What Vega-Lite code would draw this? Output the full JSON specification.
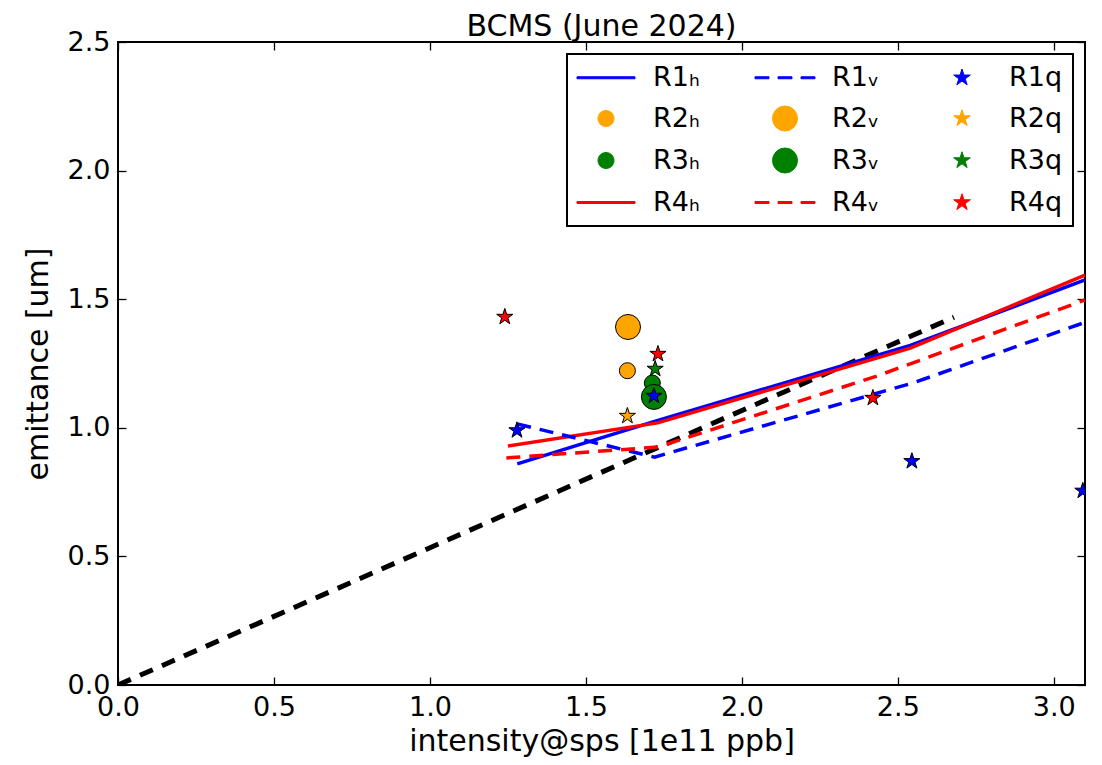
{
  "$schema": "https://vega.github.io/schema/vega-lite/v6.json",
  "width": 967,
  "height": 643,
  "autosize": "none",
  "padding": {"left": 118, "top": 42, "right": 17, "bottom": 80},
  "background": "white",
  "title": {"text": "BCMS (June 2024)", "fontSize": 30, "font": "DejaVu Sans", "fontWeight": "normal", "color": "black", "offset": -14, "anchor": "middle"},
  "config": {
    "font": "DejaVu Sans",
    "view": {"stroke": "black", "strokeWidth": 2},
    "axis": {
      "grid": false, "domain": false, "tickColor": "black", "tickSize": 8, "offset": -8, "tickWidth": 1.3, "zindex": 1,
      "labelFontSize": 27, "labelColor": "black", "labelFont": "DejaVu Sans", "labelFlush": false,
      "titleFontSize": 30, "titleFontWeight": "normal", "titleColor": "black", "titleFont": "DejaVu Sans"
    },
    "legend": {
      "orient": "top-right", "offset": 12, "columns": 3, "strokeColor": "black", "strokeWidth": 2,
      "fillColor": "white", "padding": 10, "labelFontSize": 27, "labelFont": "DejaVu Sans", "labelColor": "black",
      "rowPadding": 13, "columnPadding": 53, "symbolOffset": 15.5, "labelOffset": 33.5, "labelLimit": 300,
      "symbolSize": 625, "symbolStrokeWidth": 1
    }
  },
  "datasets": {
    "refline": [
      {"x": 0, "y": 0},
      {"x": 2.68, "y": 1.43}
    ],
    "curves": [
      {"series": "R1h", "x": 1.28, "y": 0.86},
      {"series": "R1h", "x": 1.72, "y": 1.025},
      {"series": "R1h", "x": 2.54, "y": 1.32},
      {"series": "R1h", "x": 3.1, "y": 1.575},
      {"series": "R4h", "x": 1.25, "y": 0.929},
      {"series": "R4h", "x": 1.73, "y": 1.019},
      {"series": "R4h", "x": 2.54, "y": 1.31},
      {"series": "R4h", "x": 3.1, "y": 1.594},
      {"series": "R1v", "x": 1.28, "y": 1.015},
      {"series": "R1v", "x": 1.72, "y": 0.886},
      {"series": "R1v", "x": 2.55, "y": 1.175},
      {"series": "R1v", "x": 3.1, "y": 1.41},
      {"series": "R4v", "x": 1.245, "y": 0.883},
      {"series": "R4v", "x": 1.73, "y": 0.925},
      {"series": "R4v", "x": 2.43, "y": 1.2},
      {"series": "R4v", "x": 3.1, "y": 1.497}
    ],
    "pts": [
      {"series": "R2h", "x": 1.633, "y": 1.222},
      {"series": "R3h", "x": 1.713, "y": 1.174},
      {"series": "R2v", "x": 1.635, "y": 1.392},
      {"series": "R3v", "x": 1.718, "y": 1.12},
      {"series": "R1q", "x": 1.279, "y": 0.99},
      {"series": "R1q", "x": 1.718, "y": 1.124},
      {"series": "R1q", "x": 2.545, "y": 0.87},
      {"series": "R1q", "x": 3.093, "y": 0.755},
      {"series": "R2q", "x": 1.633, "y": 1.046},
      {"series": "R3q", "x": 1.722, "y": 1.229},
      {"series": "R4q", "x": 1.24, "y": 1.431},
      {"series": "R4q", "x": 1.731, "y": 1.287},
      {"series": "R4q", "x": 2.42, "y": 1.116}
    ]
  },
  "layer": [
    {
      "data": {"name": "refline"},
      "mark": {"type": "line", "color": "black", "strokeWidth": 5, "strokeDash": [14, 10], "clip": true},
      "encoding": {
        "x": {"field": "x", "type": "quantitative", "scale": {"domain": [0, 3.1], "nice": false, "zero": false},
              "axis": {"orient": "bottom", "title": "intensity@sps [1e11 ppb]", "values": [0, 0.5, 1, 1.5, 2, 2.5, 3], "format": ".1f", "labelPadding": 9, "titlePadding": 6}},
        "y": {"field": "y", "type": "quantitative", "scale": {"domain": [0, 2.5], "nice": false, "zero": false},
              "axis": {"orient": "left", "title": "emittance [um]", "values": [0, 0.5, 1, 1.5, 2, 2.5], "format": ".1f", "labelPadding": 8, "titlePadding": 14}}
      }
    },
    {
      "data": {"name": "curves"},
      "transform": [{"filter": "datum.series == 'R1h' || datum.series == 'R4h'"}],
      "mark": {"type": "line", "strokeWidth": 3.5, "clip": true},
      "encoding": {
        "x": {"field": "x", "type": "quantitative", "axis": {"orient": "top", "labels": false, "title": null, "values": [0, 0.5, 1, 1.5, 2, 2.5, 3]}},
        "y": {"field": "y", "type": "quantitative", "axis": {"orient": "right", "labels": false, "title": null, "values": [0, 0.5, 1, 1.5, 2, 2.5]}},
        "color": {
          "field": "series", "type": "nominal",
          "scale": {
            "domain": ["R1h", "R2h", "R3h", "R4h", "R1v", "R2v", "R3v", "R4v", "R1q", "R2q", "R3q", "R4q"],
            "range": ["#0000ff", "#ffa500", "#008000", "#ff0000", "#0000ff", "#ffa500", "#008000", "#ff0000", "#0000ff", "#ffa500", "#008000", "#ff0000"]
          },
          "legend": {
            "title": null,
            "labelExpr": "slice(datum.value,0,2) + (slice(datum.value,2)=='h' ? 'ₕ' : (slice(datum.value,2)=='v' ? 'ᵥ' : 'q'))",
            "encode": {
              "symbols": {
                "update": {
                  "shape": {"signal": "(datum.value=='R1h'||datum.value=='R4h') ? 'M-2.32,-0.08L2.32,-0.08L2.32,0.08L-2.32,0.08Z' : ((datum.value=='R1v'||datum.value=='R4v') ? 'M-2.4,-0.08L-1.28,-0.08L-1.28,0.08L-2.4,0.08Z M-0.56,-0.08L0.56,-0.08L0.56,0.08L-0.56,0.08Z M1.28,-0.08L2.4,-0.08L2.4,0.08L1.28,0.08Z' : (slice(datum.value,2)=='q' ? 'M0,-0.7L0.1572,-0.2163L0.6657,-0.2163L0.2541,0.0826L0.4116,0.5663L0,0.2674L-0.4116,0.5663L-0.2541,0.0826L-0.6657,-0.2163L-0.1572,-0.2163Z' : (slice(datum.value,2)=='v' ? 'circle' : 'M0.64,0A0.64,0.64,0,1,1,-0.64,0A0.64,0.64,0,1,1,0.64,0Z')))"},
                  "stroke": {"signal": "(datum.value=='R1h'||datum.value=='R4h'||datum.value=='R1v'||datum.value=='R4v') ? scale('color', datum.value) : 'black'"},
                  "fill": {"signal": "scale('color', datum.value)"}
                }
              }
            }
          }
        }
      }
    },
    {
      "data": {"name": "curves"},
      "transform": [{"filter": "datum.series == 'R1v' || datum.series == 'R4v'"}],
      "mark": {"type": "line", "strokeWidth": 3.5, "strokeDash": [14, 9], "clip": true},
      "encoding": {
        "x": {"field": "x", "type": "quantitative", "axis": null},
        "y": {"field": "y", "type": "quantitative", "axis": null},
        "color": {"field": "series", "type": "nominal"}
      }
    },
    {
      "data": {"name": "pts"},
      "transform": [{"filter": "datum.series == 'R2h' || datum.series == 'R3h'"}],
      "mark": {"type": "point", "shape": "circle", "filled": true, "size": 256, "stroke": "black", "strokeWidth": 1, "opacity": 1, "clip": true},
      "encoding": {
        "x": {"field": "x", "type": "quantitative", "axis": null},
        "y": {"field": "y", "type": "quantitative", "axis": null},
        "color": {"field": "series", "type": "nominal"}
      }
    },
    {
      "data": {"name": "pts"},
      "transform": [{"filter": "datum.series == 'R2v' || datum.series == 'R3v'"}],
      "mark": {"type": "point", "shape": "circle", "filled": true, "size": 625, "stroke": "black", "strokeWidth": 1, "opacity": 1, "clip": true},
      "encoding": {
        "x": {"field": "x", "type": "quantitative", "axis": null},
        "y": {"field": "y", "type": "quantitative", "axis": null},
        "color": {"field": "series", "type": "nominal"}
      }
    },
    {
      "data": {"name": "pts"},
      "transform": [{"filter": "slice(datum.series,2) == 'q'"}],
      "mark": {"type": "point", "shape": "M0,-1L0.2245,-0.309L0.951,-0.309L0.363,0.118L0.588,0.809L0,0.382L-0.588,0.809L-0.363,0.118L-0.951,-0.309L-0.2245,-0.309Z", "filled": true, "size": 290, "stroke": "black", "strokeWidth": 1, "opacity": 1, "clip": true},
      "encoding": {
        "x": {"field": "x", "type": "quantitative", "axis": null},
        "y": {"field": "y", "type": "quantitative", "axis": null},
        "color": {"field": "series", "type": "nominal"}
      }
    }
  ],
  "resolve": {"axis": {"x": "independent", "y": "independent"}}
}
